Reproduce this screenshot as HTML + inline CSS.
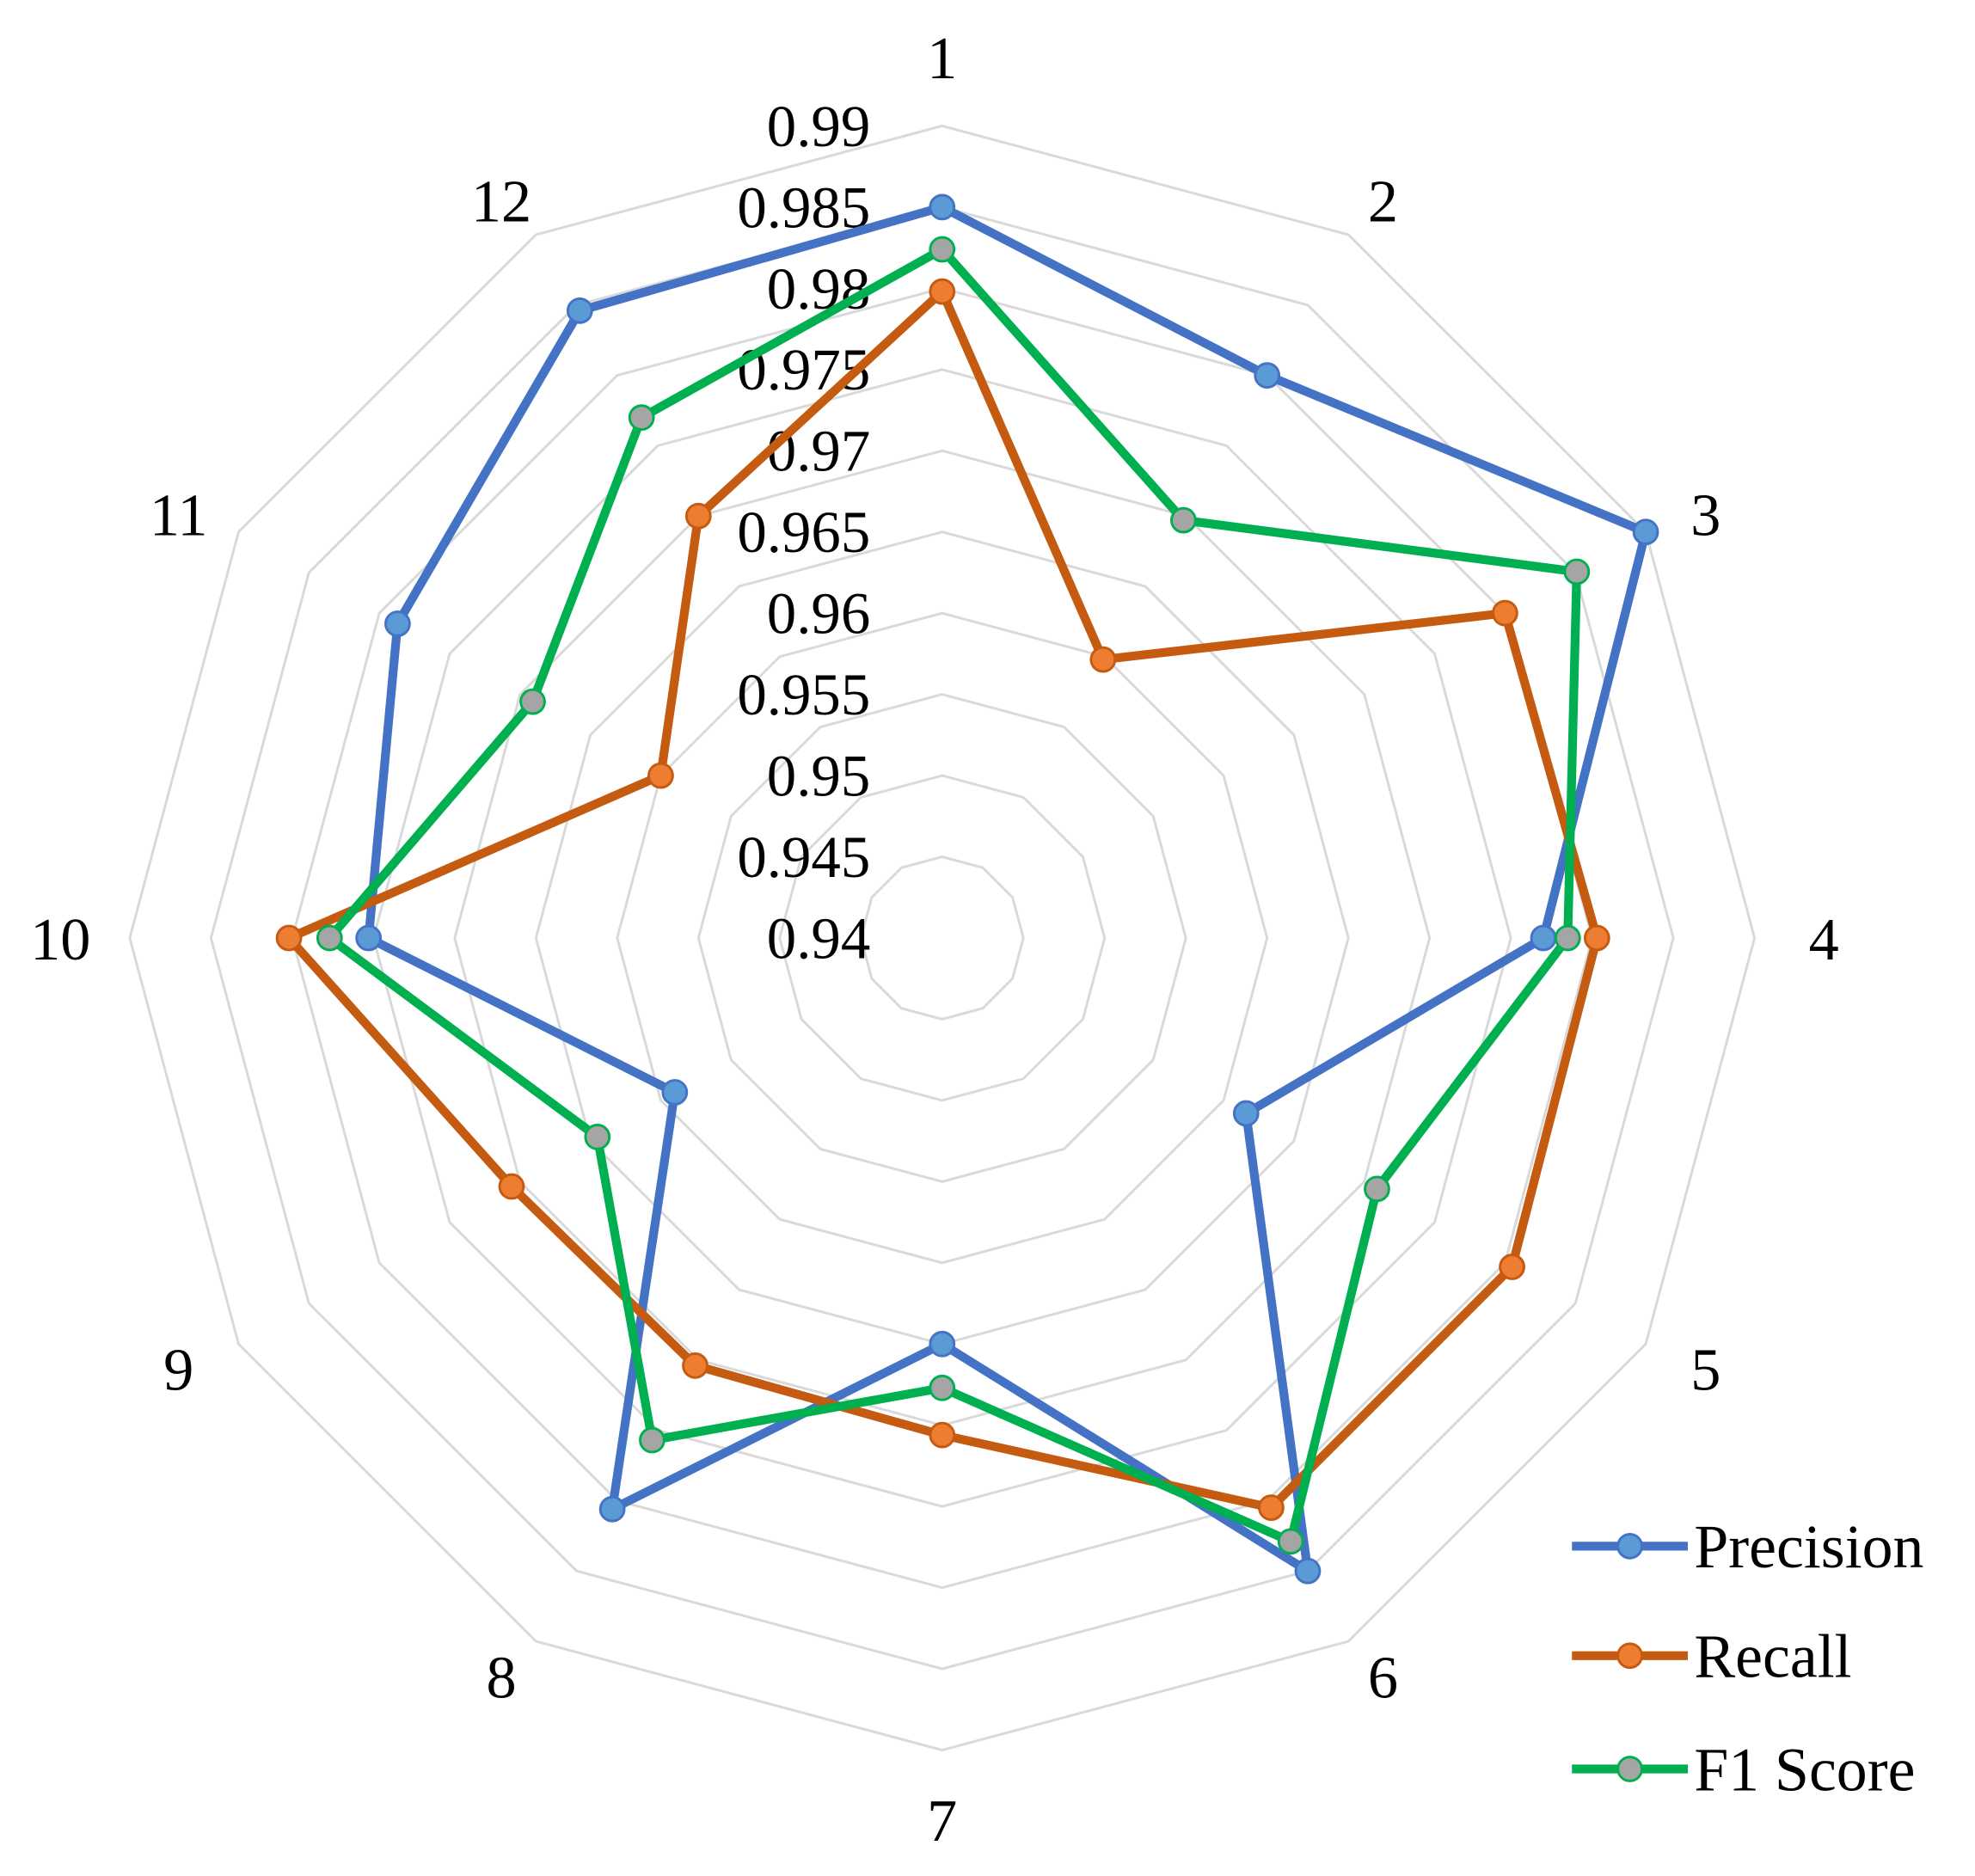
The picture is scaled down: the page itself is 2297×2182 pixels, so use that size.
<!DOCTYPE html>
<html><head><meta charset="utf-8"><style>
html,body{margin:0;padding:0;background:#fff}
svg{display:block}
text{font-family:"Liberation Serif",serif;fill:#000}
</style></head><body>
<svg width="2297" height="2182" viewBox="0 0 1568 1490" preserveAspectRatio="none" xmlns="http://www.w3.org/2000/svg">
<g id="grid"></g>
<g id="ticks"></g>
<g id="cats"></g>
<g id="series"></g>
<g id="legend"></g>
</svg>
<script>
const categories = ["1","2","3","4","5","6","7","8","9","10","11","12"];
const precision = [0.985,0.980,0.990,0.977,0.9616,0.985,0.965,0.9806,0.959,0.9753,0.9787,0.9846];
const recall = [0.9798,0.9598,0.980,0.9803,0.9805,0.9805,0.9706,0.9704,0.9706,0.9802,0.960,0.970];
const f1 = [0.9824,0.9697,0.9851,0.9785,0.9709,0.9829,0.9677,0.9757,0.9645,0.9777,0.9691,0.977];
const tickValues = [0.94,0.945,0.95,0.955,0.96,0.965,0.97,0.975,0.98,0.985,0.99];
const tickLabels = ["0.94","0.945","0.95","0.955","0.96","0.965","0.97","0.975","0.98","0.985","0.99"];
const seriesNames = ["Precision","Recall","F1 Score"];

const NS="http://www.w3.org/2000/svg";
const cx=748, cy=745, R=645, vmin=0.94, vmax=0.99;
const labelNudgeY=[0,20,13,0,-8,-20,0,-20,-8,0,13,20];
function rScale(v){return (v-vmin)/(vmax-vmin)*R;}
function pt(i,v){const a=i/categories.length*2*Math.PI;const r=rScale(v);return [cx+r*Math.sin(a),cy-r*Math.cos(a)];}
function mk(tag,attrs,parent){const e=document.createElementNS(NS,tag);for(const k in attrs)e.setAttribute(k,attrs[k]);parent.appendChild(e);return e;}

const grid=document.getElementById('grid');
tickValues.forEach((t,j)=>{
  if(t<=vmin)return;
  const pts=categories.map((c,i)=>pt(i,t).join(',')).join(' ');
  const p=mk('polygon',{points:pts,fill:'none',stroke:'#d9d9d9','stroke-width':2},grid);
  
  
});
const ticks=document.getElementById('ticks');
tickValues.forEach((t,j)=>{
  const tx=mk('text',{x:691,y:cy-rScale(t)+16,'text-anchor':'end','font-size':47},ticks);
  tx.textContent=tickLabels[j];
  
  
});
const cats=document.getElementById('cats');
categories.forEach((c,i)=>{
  const a=i/categories.length*2*Math.PI, r=700;
  const tx=mk('text',{x:cx+r*Math.sin(a),y:cy-r*Math.cos(a)+17+labelNudgeY[i],'text-anchor':'middle','font-size':48},cats);
  tx.textContent=c;
  
  
});
const styles=[{line:'#4472c4',fill:'#5b9bd5',stroke:'#4472c4'},{line:'#c55a11',fill:'#ed7d31',stroke:'#c55a11'},{line:'#00b050',fill:'#a5a5a5',stroke:'#00b050'}];
const data=[precision,recall,f1];
const sg=document.getElementById('series');
data.forEach((d,s)=>{
  const g=mk('g',{},sg);
  
  
  const pts=d.map((v,i)=>pt(i,v).join(',')).join(' ');
  const pl=mk('polygon',{points:pts,fill:'none',stroke:styles[s].line,'stroke-width':7,'stroke-linejoin':'round'},g);
  
  
  d.forEach((v,i)=>{const p=pt(i,v);
    const c=mk('circle',{cx:p[0],cy:p[1],r:9.5,fill:styles[s].fill,stroke:styles[s].stroke,'stroke-width':2},g);
    
    
  });
});
const lg=document.getElementById('legend');
const ly=[1228,1315,1405];
seriesNames.forEach((n,s)=>{
  const g=mk('g',{},lg);
  
  
  mk('line',{x1:1248,x2:1340,y1:ly[s],y2:ly[s],stroke:styles[s].line,'stroke-width':7},g);
  mk('circle',{cx:1294,cy:ly[s],r:9.5,fill:styles[s].fill,stroke:styles[s].stroke,'stroke-width':2},g);
  const t=mk('text',{x:1345,y:ly[s]+17,'font-size':49},g);
  t.textContent=n;
});
</script>
</body></html>
